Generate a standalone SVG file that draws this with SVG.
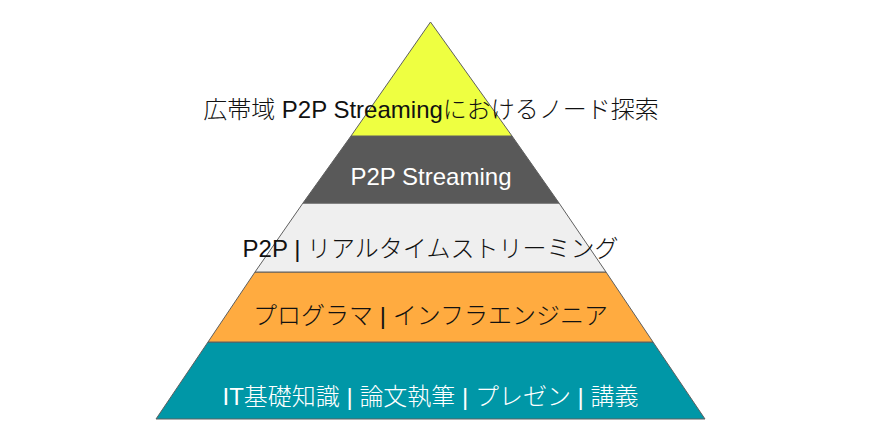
<svg xmlns="http://www.w3.org/2000/svg" width="895" height="446" viewBox="0 0 895 446">
<style>
.band{stroke:#5f5f5f;stroke-width:1;stroke-linejoin:miter}
.t{font-family:"Liberation Sans","Noto Sans CJK JP",sans-serif;font-size:24px;font-weight:400;text-anchor:middle}
.j{font-weight:300}
.dk{fill:#111111}
.wh{fill:#ffffff}
</style>
<rect width="895" height="446" fill="#ffffff"/>
<g id="layer-teal">
<polygon class="band" fill="#0097a7" points="208,342 653,342 705,419 156,419"/>
<text class="t wh" x="430.5" y="405">IT<tspan class="j">基礎知識</tspan> | <tspan class="j">論文執筆</tspan> | <tspan class="j">プレゼン</tspan> | <tspan class="j">講義</tspan></text>
</g>
<g id="layer-orange">
<polygon class="band" fill="#ffab40" points="255,272 606,272 653,342 208,342"/>
<text class="t dk" x="430.5" y="324"><tspan class="j">プログラマ</tspan> | <tspan class="j">インフラエンジニア</tspan></text>
</g>
<g id="layer-lightgray">
<polygon class="band" fill="#efefef" points="303,203 559,203 606,272 255,272"/>
<text class="t dk" x="430.5" y="257">P2P | <tspan class="j">リアルタイムストリーミング</tspan></text>
</g>
<g id="layer-darkgray">
<polygon class="band" fill="#595959" points="351,136 512,136 559,203 303,203"/>
<text class="t wh" x="431" y="185">P2P Streaming</text>
</g>
<g id="layer-yellow">
<polygon class="band" fill="#eeff41" points="430.5,22 512,136 351,136"/>
<text class="t dk" x="431" y="118"><tspan class="j">広帯域</tspan> P2P Streaming<tspan class="j">におけるノード探索</tspan></text>
</g>
<g id="connectors"/>
</svg>
